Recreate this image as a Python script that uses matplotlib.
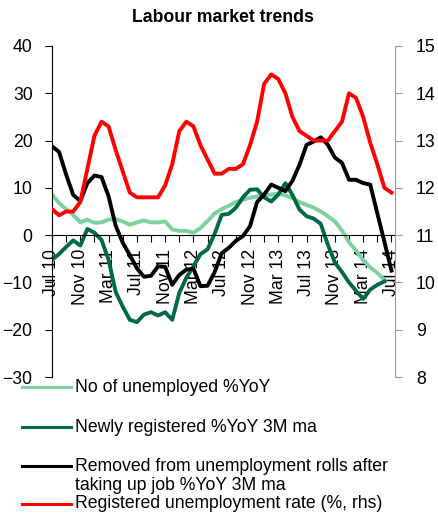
import numpy as np
import matplotlib
matplotlib.use("Agg")
import matplotlib.pyplot as plt
from matplotlib.lines import Line2D

plt.rcParams['font.family'] = ['Liberation Sans', 'DejaVu Sans']
plt.rcParams['font.size'] = 12.7

# monthly, Jul 2010 .. Jul 2014
tick_labels = ["Jul 10", "Nov 10", "Mar 11", "Jul 11", "Nov 11", "Mar 12", "Jul 12",
               "Nov 12", "Mar 13", "Jul 13", "Nov 13", "Mar 14", "Jul 14"]

unemployed_yoy = [8.6, 6.8, 5.5, 4.3, 2.7, 3.3, 2.6, 2.7, 3.3, 3.4, 2.9, 2.2, 2.7, 3.1,
                  2.7, 2.7, 2.9, 1.2, 0.9, 0.9, 0.5, 1.5, 3.0, 4.6, 5.5, 6.2, 7.0, 7.5,
                  7.9, 8.2, 8.4, 8.6, 8.8, 8.4, 7.8, 7.0, 6.4, 5.8, 5.0, 4.0, 2.9, 1.0,
                  -1.5, -3.3, -5.3, -6.8, -8.0, -9.5]

newly_registered = [-5.2, -4.0, -2.5, -1.1, -2.2, 1.3, 0.5, -1.0, -5.2, -12.0, -15.1,
                    -17.9, -18.4, -16.8, -16.3, -17.0, -16.3, -17.9, -12.2, -9.0, -6.6,
                    -4.0, -3.0, 0.3, 4.3, 4.5, 5.8, 8.0, 9.6, 9.7, 8.0, 7.1, 8.6, 11.0,
                    8.5, 5.4, 4.0, 3.5, 2.4, -2.0, -5.8, -7.8, -10.0, -11.8, -13.5,
                    -11.5, -10.5, -9.8]

removed_job = [18.8, 17.6, 12.8, 8.5, 7.2, 11.0, 12.6, 12.3, 8.2, 2.0, -1.6, -4.2, -7.0,
               -8.8, -8.6, -6.6, -6.7, -10.5, -8.4, -7.3, -7.1, -10.8, -10.7, -7.8,
               -3.8, -2.7, -1.2, -0.2, 1.9, 7.0, 8.6, 10.7, 10.0, 9.3, 11.5, 14.9, 19.1,
               19.8, 20.7, 19.1, 16.4, 15.3, 11.7, 11.7, 11.0, 10.7, 4.6, -1.4, -7.5]

unemployment_rate = [11.55, 11.42, 11.5, 11.5, 11.7, 12.4, 13.1, 13.4, 13.3, 12.8, 12.35,
                     11.9, 11.8, 11.8, 11.8, 11.8, 12.05, 12.5, 13.2, 13.4, 13.3, 12.9,
                     12.6, 12.3, 12.3, 12.4, 12.4, 12.5, 12.9, 13.4, 14.2, 14.4, 14.3,
                     14.0, 13.5, 13.2, 13.1, 13.0, 13.0, 13.0, 13.2, 13.4, 14.0, 13.9,
                     13.5, 12.95, 12.5, 12.0, 11.9]

labels = ["No of unemployed %YoY",
          "Newly registered %YoY 3M ma",
          "Removed from unemployment rolls after\ntaking up job %YoY 3M ma",
          "Registered unemployment rate (%, rhs)"]
colors = ["#7dd19c", "#00694a", "#000000", "#ff0000"]

fig = plt.figure(figsize=(4.38, 5.18), dpi=100)
ax = fig.add_axes([52 / 438, 1 - 377 / 518, (395 - 52) / 438, (377 - 46) / 518])
ax2 = ax.twinx()

lw = 2.8
ax.plot(np.arange(len(unemployed_yoy)), unemployed_yoy, color=colors[0], lw=lw)
ax.plot(np.arange(len(newly_registered)), newly_registered, color=colors[1], lw=lw)
ax.plot(np.arange(len(removed_job)), removed_job, color=colors[2], lw=lw)
ax2.plot(np.arange(len(unemployment_rate)), unemployment_rate, color=colors[3], lw=lw)

ax.set_xlim(0, 48.5)
ax.set_ylim(-30, 40)
ax2.set_ylim(8, 15)
ax.set_yticks(np.arange(-30, 41, 10))
ax2.set_yticks(np.arange(8, 16, 1))

# x axis crosses at zero
ax.spines['bottom'].set_position(('data', 0))
ax.spines['top'].set_visible(False)
ax.spines['right'].set_visible(False)
ax2.spines['top'].set_visible(False)
ax2.spines['left'].set_visible(False)
ax2.spines['bottom'].set_visible(False)
ax2.spines['right'].set_color('#999999')

xt = np.arange(0, 49, 2)
ax.set_xticks(xt)
ax.set_xticklabels([tick_labels[i // 4] if i % 4 == 0 else "" for i in xt], rotation=90)
ax.tick_params(axis='x', direction='out', length=5, pad=5, color='black')
ax.tick_params(axis='y', direction='out', length=5, pad=9)
ax2.tick_params(axis='y', direction='out', length=5, pad=10, color='#999999')
ax2.set_zorder(ax.get_zorder() + 1)

fig.text(223 / 438, 1 - 18 / 518, "Labour market trends", ha='center', va='center',
         fontweight='bold', fontsize=12.7)

# legend below the chart
for lab, col, yp in zip(labels, colors, [387, 427, 466, 504]):
    fig.add_artist(Line2D([22 / 438, 71 / 438], [1 - yp / 518, 1 - yp / 518],
                          color=col, lw=2.2, transform=fig.transFigure))
    n = lab.count("\n")
    ty = yp + 10 * n
    fig.text(75 / 438, 1 - ty / 518, lab, ha='left', va='center', linespacing=1.15)

fig.savefig("out.png", dpi=100)
